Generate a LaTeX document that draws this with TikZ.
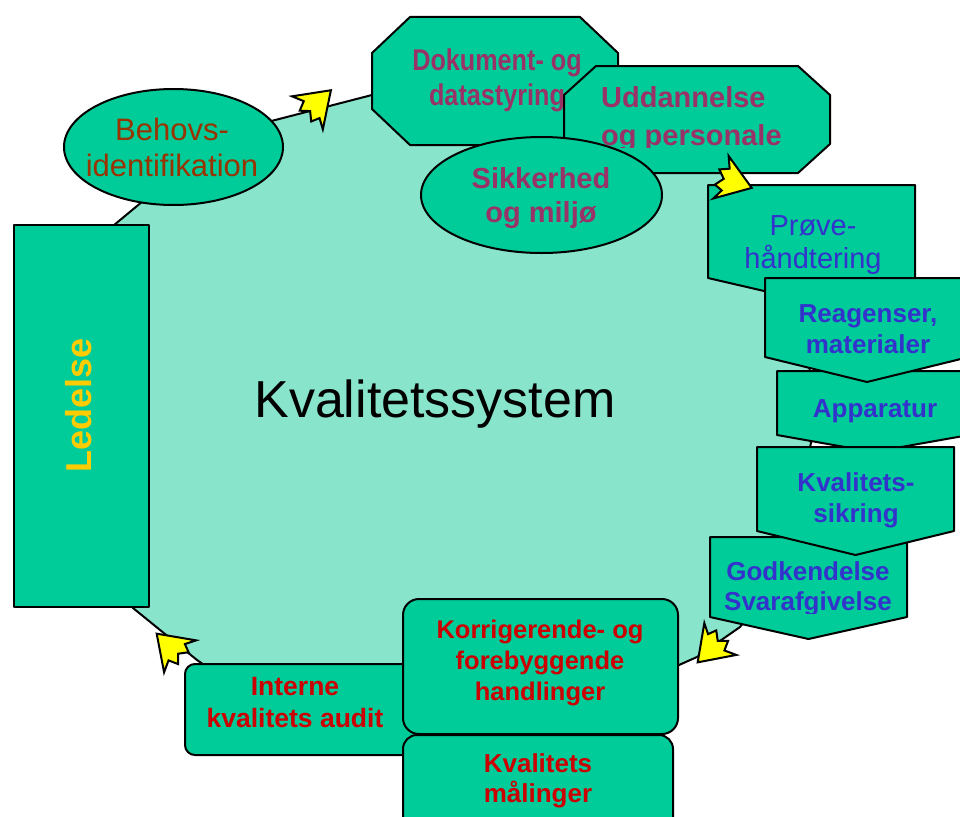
\documentclass[tikz,border=0pt]{standalone}
\usepackage{fontspec}
\setmainfont{Liberation Sans}
\newfontfamily\narrowsans[FakeStretch=0.84]{Liberation Sans}
\definecolor{BoxTeal}{HTML}{00CC99}
\definecolor{CircleTeal}{HTML}{88E4CB}
\definecolor{TextPlum}{HTML}{993366}
\definecolor{TextBrown}{HTML}{993300}
\definecolor{TextBlue}{HTML}{3333CC}
\definecolor{TextRed}{HTML}{CC0000}
\definecolor{TextGold}{HTML}{FFCC00}
\definecolor{ArrowYellow}{HTML}{FFFF00}
\tikzset{
  pics/zigarrow/.style={code={
    \draw[arrowbody] (22,0) -- (-9,22) -- (-4,12) -- (-12,9) -- (-6,1)
      -- (-13,-6) -- (-4,-10) -- (-9,-21) -- cycle;
  }}
}

\begin{document}
\begin{tikzpicture}[x=1pt,y=-1pt, every node/.style={inner sep=0pt, align=center},
  shapebox/.style={draw=black, line width=2pt, fill=BoxTeal, line join=round},
  arrowbody/.style={draw=black, line width=2pt, fill=ArrowYellow, line join=miter},
  plumtext/.style={text=TextPlum, font=\bfseries\fontsize{29}{34}\selectfont},
  bluetext/.style={text=TextBlue, font=\bfseries\fontsize{26}{31}\selectfont},
  redtext/.style={text=TextRed, font=\bfseries\fontsize{26}{31}\selectfont}]
  \clip (0,0) rectangle (960,816);
  \draw[line width=2pt, fill=CircleTeal] (225,133) -- (430,80) -- (560,80) -- (660,112)
    -- (735,178) -- (800,280) -- (815,420) -- (790,560) -- (740,627) -- (697,657)
    -- (600,700) -- (420,712) -- (250,697) -- (197,660) -- (133,608) -- (95,560)
    -- (70,400) -- (90,245) -- cycle;
  \node[anchor=base, font=\fontsize{52}{60}\selectfont] (system) at (435,417) {Kvalitetssystem};

  \draw[shapebox] (14,225) rectangle (149,607);
  \node[rotate=90, text=TextGold, font=\bfseries\fontsize{36}{40}\selectfont] (ledelse) at (79,405.5) {Ledelse};

  \draw[shapebox] (173.5,147) ellipse [x radius=109.5pt, y radius=58pt];
  \node[anchor=base, text=TextBrown, font=\fontsize{31}{36}\selectfont] (behov) at (172,176) {Behovs-\\identifikation};

  \draw[shapebox] (410,17) -- (580,17) -- (618,53) -- (618,109) -- (580,145) -- (410,145)
    -- (372,109) -- (372,53) -- cycle;
  \node[anchor=base, plumtext, font=\narrowsans\bfseries\fontsize{30}{35}\selectfont] (dokument) at (497,105) {Dokument- og\\datastyring};
  \draw[shapebox] (596,66) -- (798,66) -- (830,95) -- (830,144) -- (798,173) -- (596,173)
    -- (564,144) -- (564,95) -- cycle;
  \begin{scope}
    \clip (560,60) rectangle (835,147);
    \node[anchor=base west, align=left, plumtext, font=\bfseries\fontsize{29}{38}\selectfont] (uddannelse) at (601,145) {Uddannelse\\og personale};
  \end{scope}
  \draw[shapebox] (541.5,195) ellipse [x radius=120.5pt, y radius=58pt];
  \node[anchor=base, plumtext] (sikkerhed) at (541,222) {Sikkerhed\\og miljø};

  \draw[shapebox] (708,185) -- (915,185) -- (915,278) -- (811.5,302) -- (708,278) -- cycle;
  \node[anchor=base, text=TextBlue, font=\fontsize{29}{33}\selectfont] (prove) at (813,268) {Prøve-\\håndtering};
  \draw[shapebox] (777,371) -- (969,371) -- (969,435) -- (873,452) -- (777,435) -- cycle;
  \node[anchor=base, bluetext] (apparatur) at (875,417) {Apparatur};
  \draw[shapebox] (765,278) -- (969,278) -- (969,357) -- (867,382) -- (765,357) -- cycle;
  \node[anchor=base, bluetext] (reagenser) at (868,353) {Reagenser,\\materialer};
  \draw[shapebox] (710,537) -- (907,537) -- (907,617) -- (808.5,639) -- (710,617) -- cycle;
  \begin{scope}
    \clip (700,530) rectangle (915,613);
    \node[anchor=base, bluetext, font=\bfseries\fontsize{26}{30}\selectfont] (godkendelse) at (808,610) {Godkendelse\\Svarafgivelse};
  \end{scope}
  \draw[shapebox] (757,447) -- (954,447) -- (954,531) -- (855.5,555) -- (757,531) -- cycle;
  \node[anchor=base, bluetext] (sikring) at (856,522) {Kvalitets-\\sikring};

  \draw[shapebox, rounded corners=10pt] (185,664) rectangle (430,755);
  \node[anchor=base, redtext, font=\bfseries\fontsize{26.5}{32}\selectfont] (audit) at (295,727) {Interne\\kvalitets audit};
  \draw[shapebox, rounded corners=16pt] (403,599) rectangle (678,734);
  \node[anchor=base, redtext, font=\bfseries\fontsize{25.5}{31}\selectfont] (korrigerende) at (540,700) {Korrigerende- og\\forebyggende\\handlinger};
  \draw[shapebox, rounded corners=14pt] (403,735) rectangle (673,840);
  \node[anchor=base, redtext, font=\bfseries\fontsize{26}{30}\selectfont] (malinger) at (538,802) {Kvalitets\\målinger};

  \pic (arrowtop) [rotate=43, scale=1.05] at (314,106) {zigarrow};
  \pic (arrowright) [rotate=-20, scale=1.05] at (730,180) {zigarrow};
  \pic (arrowlow) [rotate=225, scale=1.05] at (714,646) {zigarrow};
  \pic (arrowleft) [rotate=135, scale=1.05] at (173,650) {zigarrow};
\end{tikzpicture}
\end{document}
